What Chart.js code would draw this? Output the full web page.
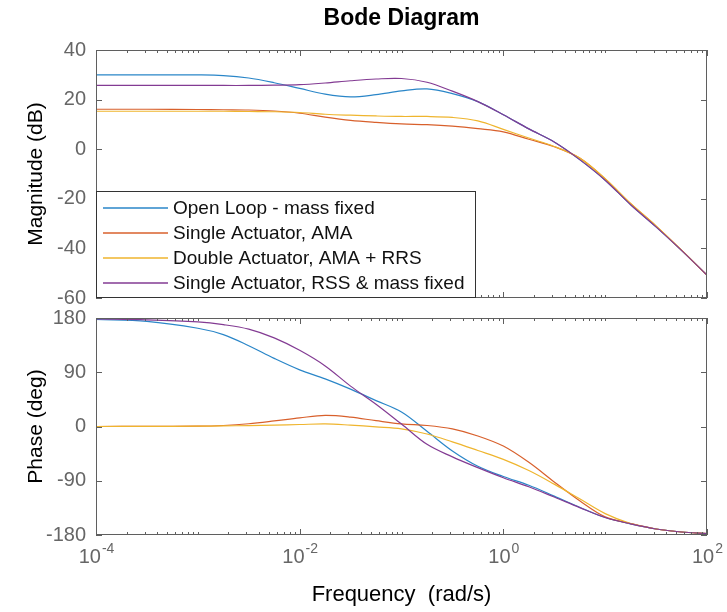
<!DOCTYPE html>
<html>
<head>
<meta charset="utf-8">
<title>Bode Diagram</title>
<script src="https://cdn.jsdelivr.net/npm/chart.js@4.4.1/dist/chart.umd.min.js"></script>
<style>
  body { margin: 0; background: #fff; }
  #wrap { position: relative; width: 727px; height: 612px; overflow: hidden; }
  #magChart { position: absolute; left: 0; top: 0; }
  #phaseChart { position: absolute; left: 0; top: 296px; }
</style>
</head>
<body>
<div id="wrap">
  <canvas id="magChart" width="727" height="320"></canvas>
  <canvas id="phaseChart" width="727" height="316"></canvas>
</div>
<script>
// frequency points (rad/s)
const freqs = [1e-4, 3.16e-4, 1e-3, 1.78e-3, 3.16e-3, 5.62e-3, 1e-2, 1.78e-2, 3.16e-2, 5.62e-2,
  0.1, 0.178, 0.316, 0.562, 1, 1.78, 3.16, 5.62, 10, 17.8, 31.6, 56.2, 100];

const seriesNames = [
  "Open Loop - mass fixed",
  "Single Actuator, AMA",
  "Double Actuator, AMA + RRS",
  "Single Actuator, RSS & mass fixed"
];
const seriesColors = ["#2a86c8", "#d8602c", "#efb52e", "#833b93"];

// magnitude (dB)
const magOpenLoop = [30, 30, 29.95, 29.7, 28.7, 26.8, 24.5, 22.2, 21.1, 22.0, 23.5, 24.3, 22.4, 19.2, 13.9, 8.2, 2.9, -4.2, -12.5, -22.4, -31.3, -40.8, -50.8];
const magAMA = [16.1, 16.1, 16.0, 15.9, 15.8, 15.4, 14.5, 12.9, 11.6, 10.8, 10.2, 9.9, 9.3, 8.3, 7.0, 4.0, 1.0, -3.6, -12.0, -22.0, -31.0, -40.7, -50.8];
const magAMARRS = [15.3, 15.3, 15.3, 15.3, 15.2, 15.1, 14.8, 14.1, 13.7, 13.4, 13.2, 13.2, 12.8, 11.4, 8.0, 4.5, 1.1, -3.6, -11.9, -21.9, -30.9, -40.7, -50.8];
const magRSS = [25.7, 25.7, 25.7, 25.7, 25.7, 25.8, 26.0, 26.7, 27.6, 28.3, 28.5, 27.0, 23.4, 19.2, 13.9, 8.2, 2.9, -4.2, -12.5, -22.4, -31.3, -40.8, -50.8];

// phase (deg)
const phOpenLoop = [177.5, 174.5, 163, 152.4, 134, 113, 94, 79, 62, 43, 24, -8, -40.6, -66, -83, -97.5, -115.5, -134, -151, -161.5, -170, -175, -177.5];
const phAMA = [0, 0.2, 0.5, 1.7, 4.6, 9.2, 14.3, 18.3, 15.5, 9.6, 4.3, 1.7, -4, -15.7, -32.5, -59.5, -92, -123.3, -150, -161, -170, -175, -177.5];
const phAMARRS = [0, 0.2, 0.5, 1.0, 1.6, 2.4, 3.3, 4.3, 2.2, -0.6, -3.9, -12.5, -25.5, -39.8, -54.5, -73, -95.6, -120, -144.5, -161, -170, -175, -177.5];
const phRSS = [178.5, 177, 173.5, 169, 161.5, 147, 126.4, 100.5, 67, 37, 4, -29.6, -50.4, -68.3, -85, -100, -117, -134.5, -151, -161.5, -170, -175, -177.5];

const magTicks = [-60, -40, -20, 0, 20, 40];
const phaseTicks = [-180, -90, 0, 90, 180];
const xLabelExps = [-4, -2, 0, 2];

Chart.defaults.font.family = '"Liberation Sans", Arial, sans-serif';
Chart.defaults.animation = false;

function makeDatasets(series) {
  return series.map((vals, i) => ({
    label: seriesNames[i],
    data: freqs.map((f, j) => ({ x: f, y: vals[j] })),
    borderColor: seriesColors[i],
    borderWidth: 1.2,
    pointRadius: 0,
    fill: false,
    tension: 0.35,
    order: series.length - i
  }));
}

// box + inward ticks like matlab axes
const axesFrame = {
  id: 'axesFrame',
  afterDatasetsDraw(chart) {
    const { ctx, chartArea: a, scales } = chart;
    ctx.save();
    ctx.strokeStyle = '#5f5f5f';
    ctx.lineWidth = 1;
    ctx.strokeRect(a.left + 0.5, a.top + 0.5, a.right - a.left - 1, a.bottom - a.top - 1);
    ctx.beginPath();
    for (let k = -4; k <= 2; k++) {
      for (let m = 1; m <= 9; m++) {
        const v = m * Math.pow(10, k);
        if (v > 100.001) break;
        const x = Math.round(scales.x.getPixelForValue(v)) + 0.5;
        const len = (m === 1 && k % 2 === 0) ? 6 : 3;
        ctx.moveTo(x, a.top); ctx.lineTo(x, a.top + len);
        ctx.moveTo(x, a.bottom); ctx.lineTo(x, a.bottom - len);
      }
    }
    scales.y.ticks.forEach(t => {
      const y = Math.round(scales.y.getPixelForValue(t.value)) + 0.5;
      ctx.moveTo(a.left, y); ctx.lineTo(a.left + 6, y);
      ctx.moveTo(a.right, y); ctx.lineTo(a.right - 6, y);
    });
    ctx.stroke();
    ctx.restore();
  }
};

const titleAndLegend = {
  id: 'titleAndLegend',
  afterDraw(chart) {
    const { ctx, chartArea: a } = chart;
    ctx.save();
    ctx.fillStyle = '#000';
    ctx.font = 'bold 23px "Liberation Sans", Arial, sans-serif';
    ctx.textAlign = 'center';
    ctx.textBaseline = 'middle';
    ctx.fillText('Bode Diagram', (a.left + a.right) / 2, 19);

    // legend box, bottom-left inside the axes
    const top = a.bottom - 107, right = 475;
    ctx.fillStyle = '#fff';
    ctx.fillRect(a.left, top, right - a.left, a.bottom - top);
    ctx.strokeStyle = '#333';
    ctx.lineWidth = 1;
    ctx.strokeRect(a.left + 0.5, top + 0.5, right - a.left, a.bottom - top - 1);
    ctx.font = '19px "Liberation Sans", Arial, sans-serif';
    ctx.textAlign = 'left';
    chart.data.datasets.forEach((ds, i) => {
      const y = top + 17 + i * 25;
      ctx.strokeStyle = ds.borderColor;
      ctx.lineWidth = 1.4;
      ctx.beginPath();
      ctx.moveTo(a.left + 7, y);
      ctx.lineTo(a.left + 72, y);
      ctx.stroke();
      ctx.fillStyle = '#111';
      ctx.fillText(ds.label, a.left + 77, y + 1);
    });
    ctx.restore();
  }
};

const expTickLabels = {
  id: 'expTickLabels',
  afterDraw(chart) {
    const { ctx, chartArea: a, scales } = chart;
    ctx.save();
    ctx.fillStyle = '#666';
    ctx.textBaseline = 'alphabetic';
    ctx.textAlign = 'left';
    const baseFont = '20px "Liberation Sans", Arial, sans-serif';
    const expFont = '14px "Liberation Sans", Arial, sans-serif';
    xLabelExps.forEach(e => {
      const x = scales.x.getPixelForValue(Math.pow(10, e));
      const expText = String(e);
      ctx.font = baseFont;
      const wb = ctx.measureText('10').width;
      ctx.font = expFont;
      const we = ctx.measureText(expText).width;
      const x0 = x - (wb + we) / 2;
      ctx.font = baseFont;
      ctx.fillText('10', x0, a.bottom + 28);
      ctx.font = expFont;
      ctx.fillText(expText, x0 + wb + 1, a.bottom + 18);
    });
    ctx.restore();
  }
};

function yScale(min, max, step, title) {
  return {
    type: 'linear',
    min: min,
    max: max,
    afterFit: s => { s.width = 96; },
    grid: { display: false, drawTicks: false },
    border: { display: false },
    ticks: { stepSize: step, padding: 10, color: '#666', font: { size: 20 } },
    title: { display: true, text: title, color: '#000', font: { size: 21 }, padding: { top: 24, bottom: 0 } }
  };
}

new Chart(document.getElementById('magChart').getContext('2d'), {
  type: 'line',
  data: { datasets: makeDatasets([magOpenLoop, magAMA, magAMARRS, magRSS]) },
  options: {
    responsive: false,
    layout: { padding: { top: 50, right: 20, bottom: 3, left: 0 } },
    plugins: { legend: { display: false }, tooltip: { enabled: false } },
    scales: {
      x: { type: 'logarithmic', min: 1e-4, max: 1e2, display: false },
      y: yScale(magTicks[0], magTicks[magTicks.length - 1], 20, 'Magnitude (dB)')
    }
  },
  plugins: [axesFrame, titleAndLegend]
});

new Chart(document.getElementById('phaseChart').getContext('2d'), {
  type: 'line',
  data: { datasets: makeDatasets([phOpenLoop, phAMA, phAMARRS, phRSS]) },
  options: {
    responsive: false,
    layout: { padding: { top: 16, right: 20, bottom: 0, left: 0 } },
    plugins: { legend: { display: false }, tooltip: { enabled: false } },
    scales: {
      x: {
        type: 'logarithmic', min: 1e-4, max: 1e2,
        afterFit: s => { s.height = 77; },
        grid: { display: false, drawTicks: false },
        border: { display: false },
        ticks: { display: false },
        title: { display: true, text: 'Frequency  (rad/s)', color: '#000', font: { size: 22 }, padding: { top: 0, bottom: 4 } }
      },
      y: yScale(phaseTicks[0], phaseTicks[phaseTicks.length - 1], 90, 'Phase (deg)')
    }
  },
  plugins: [axesFrame, expTickLabels]
});
</script>
</body>
</html>
